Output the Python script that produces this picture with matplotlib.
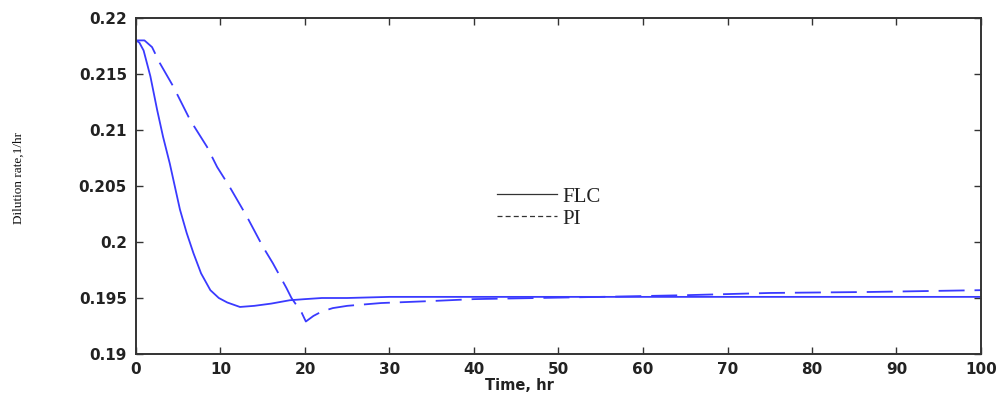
import matplotlib
matplotlib.use("Agg")
import matplotlib.pyplot as plt
from matplotlib.lines import Line2D

# ---- data ----
t_flc = [0, 0.4, 0.9, 1.7, 2.5, 3.2, 4.0, 5.2, 6.0, 6.8, 7.7, 8.8, 9.8, 10.8,
         12.3, 14, 16, 18.2, 20, 22, 25, 30, 40, 50, 60, 70, 80, 90, 100]
v_flc = [0.2180, 0.2178, 0.2171, 0.2148, 0.2118, 0.2094, 0.2070, 0.2029, 0.2008,
         0.1990, 0.1972, 0.1957, 0.1950, 0.1946, 0.1942, 0.1943, 0.1945, 0.1948,
         0.1949, 0.1950, 0.1950, 0.1951, 0.1951, 0.1951, 0.1951, 0.1951, 0.1951,
         0.1951, 0.1951]

t_pi = [0, 1, 1.9, 2.8, 4.4, 6.4, 8.4, 9.6, 11.1, 13.1, 15, 16.2, 17.8, 18.4,
        19.6, 20.1, 21, 22, 23.3, 25, 29, 35, 40, 55, 65, 75, 87, 100]
v_pi = [0.2180, 0.2180, 0.2174, 0.2160, 0.2139, 0.2109, 0.2085, 0.2067, 0.2049,
        0.2023, 0.1996, 0.1981, 0.1959, 0.1950, 0.1937, 0.1929, 0.1934, 0.1938,
        0.1941, 0.1943, 0.19455, 0.19473, 0.1949, 0.1951, 0.19525, 0.19545,
        0.19554, 0.1957]

series_labels = ["FLC", "PI"]
x_ticks = [0, 10, 20, 30, 40, 50, 60, 70, 80, 90, 100]
y_ticks = [0.19, 0.195, 0.2, 0.205, 0.21, 0.215, 0.22]
y_tick_labels = ["0.19", "0.195", "0.2", "0.205", "0.21", "0.215", "0.22"]

# ---- figure ----
W, H = 1003, 398
fig = plt.figure(figsize=(W / 100, H / 100), dpi=100)
ax = fig.add_axes([136 / W, 1 - 354 / H, (981 - 136) / W, (354 - 18) / H])

line_color = "#3a3aff"
ax.plot(t_flc, v_flc, color=line_color, lw=1.3, solid_capstyle="butt")
ax.plot(t_pi, v_pi, color=line_color, lw=1.3, linestyle=(0, (14.4, 5.5)))

ax.set_xlim(0, 100)
ax.set_ylim(0.19, 0.22)
ax.set_xticks(x_ticks)
ax.set_yticks(y_ticks)
ax.set_yticklabels(y_tick_labels)

txt_color = "#222222"
for lab in ax.get_xticklabels() + ax.get_yticklabels():
    lab.set_fontfamily("DejaVu Sans")
    lab.set_fontweight("bold")
    lab.set_fontsize(11)
    lab.set_color(txt_color)

ax.tick_params(axis="both", which="both", direction="in", length=5, width=1,
               color="#333333", top=True, right=True)
ax.tick_params(axis="x", pad=5.5)
ax.tick_params(axis="y", pad=6.5)
for sp in ax.spines.values():
    sp.set_color("#333333")
    sp.set_linewidth(1.4)

fig.text(519 / W, 1 - 385 / H, "Time, hr", ha="center", va="center",
         fontfamily="DejaVu Sans", fontweight="bold", fontsize=10.5, color=txt_color)
fig.text(19 / W, 1 - 178 / H, "Dilution rate,1/hr", ha="center", va="center",
         rotation=90, fontfamily="Liberation Serif", fontsize=9.5, color="#111111")

handles = [Line2D([], [], color="#333333", lw=0.9),
           Line2D([], [], color="#333333", lw=0.9, linestyle=(0, (4, 2.5)))]
leg = ax.legend(handles, series_labels, loc="upper left",
                bbox_to_anchor=(497 / W, 1 - 187 / H), bbox_transform=fig.transFigure,
                frameon=False, borderpad=0, borderaxespad=0, handlelength=2.9,
                handletextpad=0.25, labelspacing=0.12,
                prop={"family": "Liberation Serif", "size": 15})
for t in leg.get_texts():
    t.set_color("#222222")

fig.savefig("out.png", dpi=100, facecolor="white")
